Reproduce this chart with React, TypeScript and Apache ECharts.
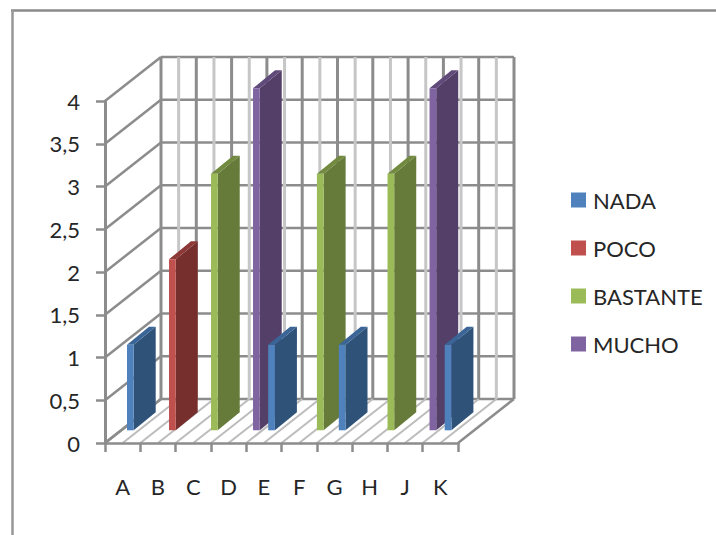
import React, { useEffect, useRef } from "react";
import * as echarts from "echarts";

const categories = ["A", "B", "C", "D", "E", "F", "G", "H", "J", "K"];
const yTicks = [0, 0.5, 1, 1.5, 2, 2.5, 3, 3.5, 4];

// One answer per category; null means the series has no column there.
const nada = [1, null, null, null, 1, null, 1, null, null, 1];
const poco = [null, 2, null, null, null, null, null, null, null, null];
const bastante = [null, null, 3, null, null, 3, null, 3, null, null];
const mucho = [null, null, null, 4, null, null, null, null, 4, null];

const FONT = "Lato, 'Open Sans', sans-serif";
const DEPTH_X = 56;
const DEPTH_Y = 44;
const BAR_LEAD = 22; // horizontal shift of the column row from the category edge
const BAR_LIFT = 12.7; // vertical shift of the column row into the floor
const BAR_DEPTH_X = 22;
const BAR_DEPTH_Y = 18;
const DARK = "#8c8c8c";
const LIGHT = "#c6c6c6";

type Shade = { front: string; side: string; top: string };

const barSeries = (
  name: string,
  values: (number | null)[],
  slot: number,
  shade: Shade,
  z: number
) => ({
  type: "custom",
  name,
  z,
  silent: true,
  clip: false,
  itemStyle: { color: shade.front },
  data: values.flatMap((v, i) => (v === null ? [] : [[i, v]])),
  encode: { x: 0, y: 1 },
  renderItem: (_: any, api: any) => {
    const i = api.value(0);
    const top = api.coord([i, api.value(1)]);
    const base = api.coord([i, 0]);
    const band = api.size([1, 0])[0];
    const w = band * 0.19;
    const x0 = top[0] - band / 2 + BAR_LEAD + slot * w;
    const x1 = x0 + w;
    const yT = top[1] - BAR_LIFT;
    const yB = base[1] - BAR_LIFT;
    const dx = BAR_DEPTH_X;
    const dy = BAR_DEPTH_Y;
    return {
      type: "group",
      children: [
        {
          type: "polygon",
          shape: { points: [[x1, yT], [x1 + dx, yT - dy], [x1 + dx, yB - dy], [x1, yB]] },
          style: { fill: shade.side },
        },
        {
          type: "polygon",
          shape: { points: [[x0, yT], [x0 + dx, yT - dy], [x1 + dx, yT - dy], [x1, yT]] },
          style: { fill: shade.top },
        },
        {
          type: "rect",
          shape: { x: x0, y: yT, width: w, height: yB - yT },
          style: { fill: shade.front },
        },
      ],
    };
  },
});

const line = (x1: number, y1: number, x2: number, y2: number, stroke: string, lineWidth = 2.5) => ({
  type: "line",
  shape: { x1, y1, x2, y2 },
  style: { stroke, lineWidth },
});

// Back wall rows plus the diagonal rows of the left side wall.
const rowSeries = {
  type: "custom",
  silent: true,
  clip: false,
  z: 1,
  data: yTicks.map((v) => [0, v]),
  encode: { x: 0, y: 1 },
  renderItem: (_: any, api: any) => {
    const p = api.coord([0, api.value(1)]);
    const band = api.size([1, 0])[0];
    const left = p[0] - band / 2;
    const right = left + band * categories.length;
    return {
      type: "group",
      children: [
        line(left, p[1], left + DEPTH_X, p[1] - DEPTH_Y, DARK),
        line(left + DEPTH_X, p[1] - DEPTH_Y, right + DEPTH_X, p[1] - DEPTH_Y, DARK),
      ],
    };
  },
};

// Verticals of the back wall and the floor hatch, at every half category.
const columnSeries = {
  type: "custom",
  silent: true,
  clip: false,
  z: 1,
  data: Array.from({ length: categories.length * 2 + 1 }, (_, k) => [0, 0, k]),
  encode: { x: 0, y: 1 },
  renderItem: (_: any, api: any) => {
    const k = api.value(2);
    const p = api.coord([0, 0]);
    const topY = api.coord([0, yTicks[yTicks.length - 1]])[1];
    const band = api.size([1, 0])[0];
    const x = p[0] - band / 2 + (k * band) / 2;
    const edge = k === 0 || k === categories.length * 2;
    const wall = k % 2 === 0 ? DARK : LIGHT;
    return {
      type: "group",
      children: [
        line(x + DEPTH_X, p[1] - DEPTH_Y, x + DEPTH_X, topY - DEPTH_Y, wall, 3),
        line(x, p[1], x + DEPTH_X, p[1] - DEPTH_Y, edge ? DARK : "#bcbcbc", edge ? 2.5 : 2),
      ],
    };
  },
};

const option = {
  animation: false,
  backgroundColor: "#ffffff",
  grid: { left: 105, top: 101, width: 353, height: 342, containLabel: false },
  legend: {
    orient: "vertical",
    left: 566,
    top: 182,
    selectedMode: false,
    itemWidth: 15,
    itemHeight: 15,
    itemGap: 22,
    icon: "rect",
    data: ["NADA", "POCO", "BASTANTE", "MUCHO"],
    textStyle: { fontFamily: FONT, fontSize: 22, lineHeight: 26, color: "#262626", padding: [0, 0, 0, 2] },
  },
  xAxis: {
    type: "category",
    data: categories,
    boundaryGap: true,
    axisLine: { lineStyle: { color: DARK, width: 2.5 } },
    axisTick: { show: true, alignWithLabel: false, length: 9, lineStyle: { color: DARK, width: 2.5 } },
    axisLabel: { fontFamily: FONT, fontSize: 22, color: "#262626", margin: 32, interval: 0 },
    splitLine: { show: false },
    z: 2,
  },
  yAxis: {
    type: "value",
    min: 0,
    max: 4,
    interval: 0.5,
    axisLine: { show: true, lineStyle: { color: DARK, width: 3 } },
    axisTick: { show: true, length: 9, lineStyle: { color: DARK, width: 2.5 } },
    axisLabel: {
      fontFamily: FONT,
      fontSize: 22,
      color: "#262626",
      margin: 25,
      formatter: (v: number) => String(v).replace(".", ","),
    },
    splitLine: { show: false },
    z: 2,
  },
  graphic: [
    { type: "line", shape: { x1: 11, y1: 10.5, x2: 716, y2: 10.5 }, style: { stroke: "#8a8a8a", lineWidth: 2.5 } },
    { type: "line", shape: { x1: 12.5, y1: 10, x2: 12.5, y2: 535 }, style: { stroke: "#979797", lineWidth: 2.5 } },
  ],
  series: [
    rowSeries,
    columnSeries,
    barSeries("NADA", nada, 0, { front: "#4f81bd", side: "#2f5279", top: "#3a6596" }, 5),
    barSeries("POCO", poco, 1, { front: "#c0504d", side: "#772f2d", top: "#8c3836" }, 4),
    barSeries("BASTANTE", bastante, 2, { front: "#9bbb59", side: "#667a3a", top: "#728a40" }, 4),
    barSeries("MUCHO", mucho, 3, { front: "#8064a2", side: "#533f68", top: "#5f4a7a" }, 4),
  ],
};

export default function App() {
  const ref = useRef<HTMLDivElement>(null);
  useEffect(() => {
    const chart = echarts.init(ref.current!, undefined, { renderer: "svg" });
    chart.setOption(option as any);
    return () => chart.dispose();
  }, []);
  return (
    <div
      ref={ref}
      style={{ position: "absolute", left: 0, top: 0, width: 716, height: 535 }}
    />
  );
}
